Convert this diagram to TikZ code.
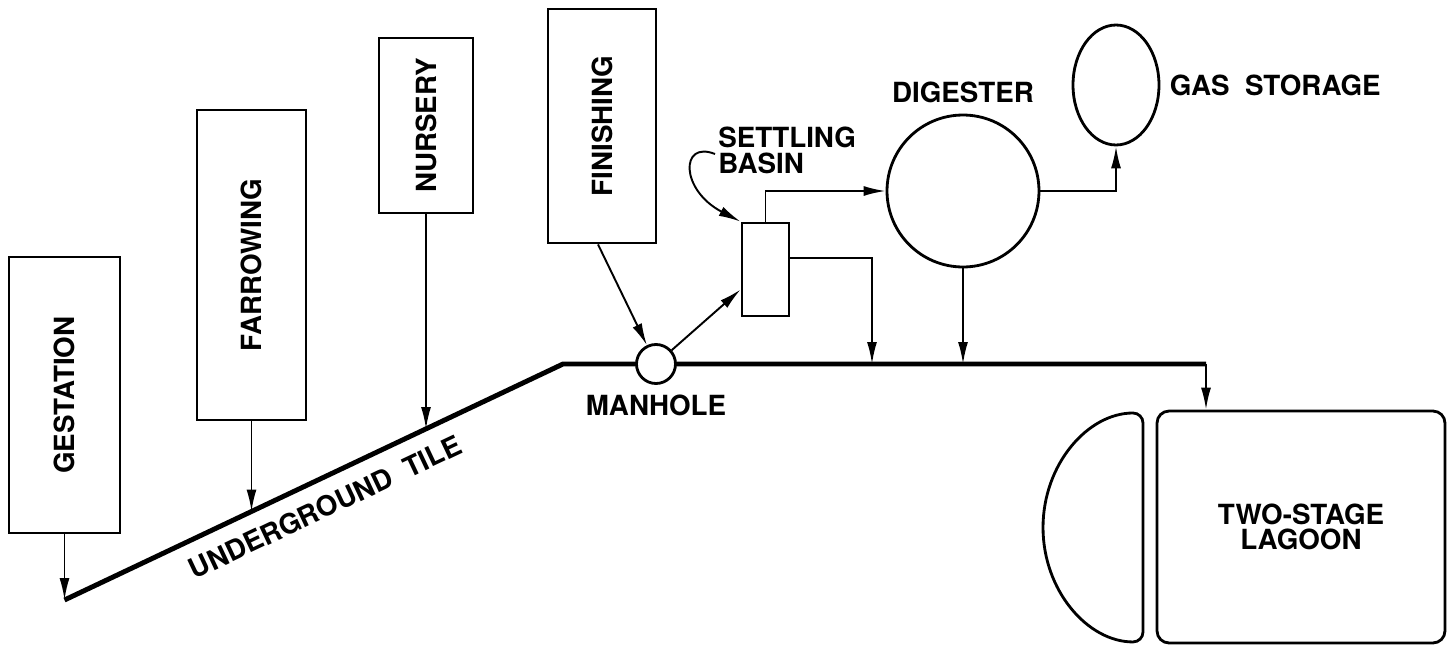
\documentclass[tikz,border=0pt]{standalone}
\usepackage{fontspec}
\setmainfont{TeX Gyre Heros}
\usepackage{tikz}
\usetikzlibrary{positioning,shapes.geometric,arrows.meta}

\begin{document}
\begin{tikzpicture}[
        x=0.02cm,
        y=-0.02cm,
        unit/.style={
            draw,
            line width=1.6pt,
            inner sep=0pt,
            font=\bfseries\fontsize{15.8}{14.2}\selectfont
        },
        house/.style={
            unit,
            rectangle,
            rotate=90
        },
        flow/.style={
            line width=1.1pt,
            -{Latex[length=0.44cm,width=0.2cm]}
        },
        tile/.style={
            line width=2.8pt,
            line join=miter
        },
        lbl/.style={
            inner sep=0pt,
            font=\bfseries\fontsize{15.8}{14.8}\selectfont
        }
    ]

    \useasboundingbox (0,0) rectangle (1448,646);

    % Underground tile
    \coordinate (t0) at (64.5,600);
    \coordinate (tbend) at (563,364);
    \coordinate (tend) at (1206,364);
    \coordinate (tfar) at (251.5,511.5);
    \coordinate (tnur) at (426,429);
    \coordinate (tbas) at (872,364);

    \draw[tile] (t0) -- (tbend) -- (tend);

    % Buildings (rotated, so west is the bottom side)
    \node[house, minimum width=5.52cm, minimum height=2.22cm] (gest) at (64.5,395) {GESTATION};
    \node[house, minimum width=6.2cm, minimum height=2.18cm] (farrow) at (251.5,265) {FARROWING};
    \node[house, minimum width=3.5cm, minimum height=1.88cm] (nurs) at (426,125.5) {NURSERY};
    \node[house, minimum width=4.68cm, minimum height=2.16cm] (fin) at (602,126) {FINISHING};

    % Treatment units
    \node[unit, circle, fill=white, minimum size=0.78cm] (man) at (656,364) {};
    \node[unit, rectangle, minimum width=0.94cm, minimum height=1.86cm] (basin) at (765.5,269.5) {};
    \node[unit, circle, minimum size=3.04cm] (dig) at (963,191) {};
    \node[unit, ellipse, minimum width=1.72cm, minimum height=2.4cm] (gas) at (1116,85) {};
    \node[unit, rectangle, rounded corners=0.24cm, align=center,
        minimum width=5.76cm, minimum height=4.64cm] (lag) at (1301,527) {TWO-STAGE\\LAGOON};

    % First stage of the lagoon
    \draw[unit, rounded corners=0.2cm] (1143,413)
        arc[start angle=90, end angle=270, x radius=2cm, y radius=2.29cm] -- cycle;

    % Flows into the tile
    \draw[flow] (gest.west) -- (t0);
    \foreach \b/\t in {farrow/tfar,nurs/tnur}
        \draw[flow] (\b.west) -- (\t);

    % Flows through the treatment units
    \draw[flow] ([xshift=-0.08cm]fin.west) -- (man);
    \draw[flow] (man) -- ([yshift=-0.4cm]basin.west);
    \draw[flow] (basin.north) |- (dig.west);
    \draw[flow] ([yshift=0.23cm]basin.east) -| (tbas);
    \draw[flow] (dig.south) -- (dig.south |- tbend);
    \draw[flow] (dig.east) -| (gas.south);
    \draw[flow] (tend) -- (tend |- lag.north);

    % Labels
    \node[lbl, above=0.2cm of dig] (diglbl) {DIGESTER};
    \node[lbl, right=0.18cm of gas] (gaslbl) {GAS\ \ STORAGE};
    \node[lbl, below=0.19cm of man] (manlbl) {MANHOLE};
    \node[lbl, anchor=west, align=left] (setlbl) at (718,150) {SETTLING\\BASIN};
    \node[lbl, rotate=25.3] (tilelbl) at (325,507) {UNDERGROUND\ \ TILE};

    \draw[flow] ([xshift=-0.06cm,yshift=-0.08cm]setlbl.west)
        .. controls (680,140) and (680,190) .. (basin.north west);

    \end{tikzpicture}
\end{document}
